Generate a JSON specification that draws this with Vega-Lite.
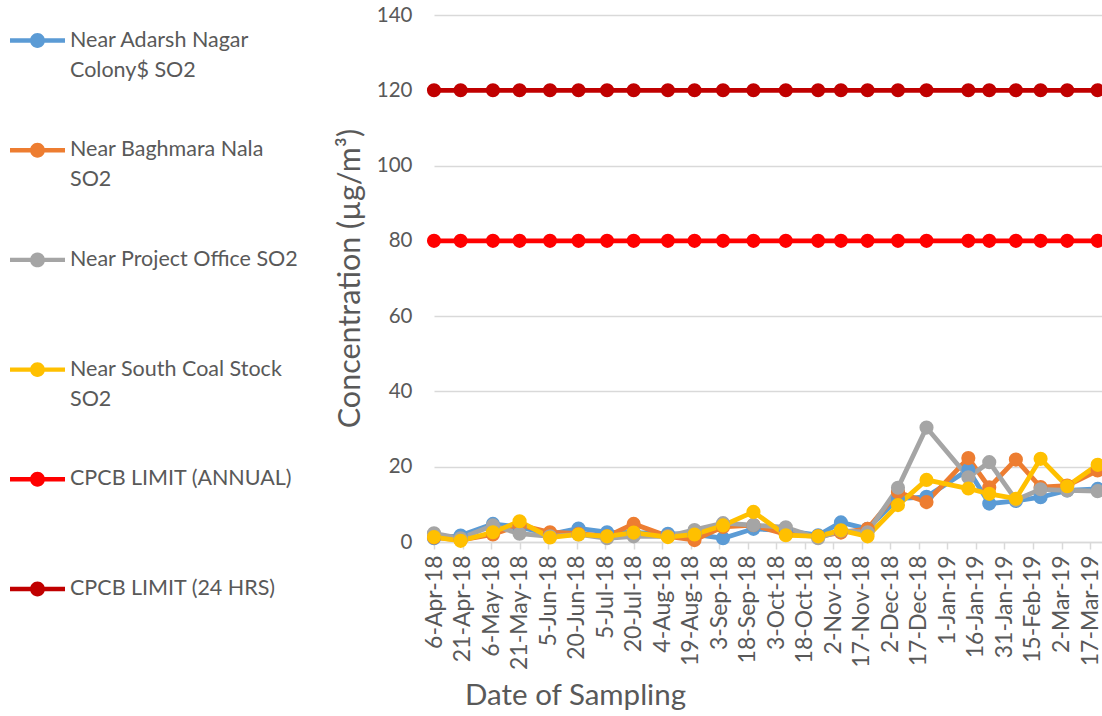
{
  "$schema": "https://vega.github.io/schema/vega-lite/v6.json",
  "width": 668,
  "height": 527,
  "autosize": {"type": "none"},
  "padding": {"left": 434, "top": 15, "right": 0, "bottom": 174},
  "background": "white",
  "config": {"view": {"stroke": null}, "font": "Lato"},
  "data": {
    "values": [
      {"date": "2018-04-06", "Near Adarsh Nagar Colony$ SO2": 1.0, "Near Baghmara Nala SO2": 1.2, "Near Project Office SO2": 2.3, "Near South Coal Stock SO2": 1.3, "CPCB LIMIT (ANNUAL)": 80, "CPCB LIMIT (24 HRS)": 120},
      {"date": "2018-04-20", "Near Adarsh Nagar Colony$ SO2": 1.7, "Near Baghmara Nala SO2": 0.5, "Near Project Office SO2": 1.0, "Near South Coal Stock SO2": 0.3, "CPCB LIMIT (ANNUAL)": 80, "CPCB LIMIT (24 HRS)": 120},
      {"date": "2018-05-07", "Near Adarsh Nagar Colony$ SO2": 4.8, "Near Baghmara Nala SO2": 2.0, "Near Project Office SO2": 4.4, "Near South Coal Stock SO2": 2.6, "CPCB LIMIT (ANNUAL)": 80, "CPCB LIMIT (24 HRS)": 120},
      {"date": "2018-05-21", "Near Adarsh Nagar Colony$ SO2": 4.0, "Near Baghmara Nala SO2": 4.5, "Near Project Office SO2": 2.2, "Near South Coal Stock SO2": 5.5, "CPCB LIMIT (ANNUAL)": 80, "CPCB LIMIT (24 HRS)": 120},
      {"date": "2018-06-06", "Near Adarsh Nagar Colony$ SO2": 2.0, "Near Baghmara Nala SO2": 2.6, "Near Project Office SO2": 1.5, "Near South Coal Stock SO2": 1.2, "CPCB LIMIT (ANNUAL)": 80, "CPCB LIMIT (24 HRS)": 120},
      {"date": "2018-06-21", "Near Adarsh Nagar Colony$ SO2": 3.6, "Near Baghmara Nala SO2": 2.2, "Near Project Office SO2": 2.0, "Near South Coal Stock SO2": 2.0, "CPCB LIMIT (ANNUAL)": 80, "CPCB LIMIT (24 HRS)": 120},
      {"date": "2018-07-06", "Near Adarsh Nagar Colony$ SO2": 2.6, "Near Baghmara Nala SO2": 1.5, "Near Project Office SO2": 1.0, "Near South Coal Stock SO2": 1.5, "CPCB LIMIT (ANNUAL)": 80, "CPCB LIMIT (24 HRS)": 120},
      {"date": "2018-07-20", "Near Adarsh Nagar Colony$ SO2": 2.5, "Near Baghmara Nala SO2": 4.8, "Near Project Office SO2": 1.5, "Near South Coal Stock SO2": 2.5, "CPCB LIMIT (ANNUAL)": 80, "CPCB LIMIT (24 HRS)": 120},
      {"date": "2018-08-07", "Near Adarsh Nagar Colony$ SO2": 2.2, "Near Baghmara Nala SO2": 1.5, "Near Project Office SO2": 1.5, "Near South Coal Stock SO2": 1.3, "CPCB LIMIT (ANNUAL)": 80, "CPCB LIMIT (24 HRS)": 120},
      {"date": "2018-08-21", "Near Adarsh Nagar Colony$ SO2": 2.0, "Near Baghmara Nala SO2": 0.5, "Near Project Office SO2": 3.2, "Near South Coal Stock SO2": 2.0, "CPCB LIMIT (ANNUAL)": 80, "CPCB LIMIT (24 HRS)": 120},
      {"date": "2018-09-05", "Near Adarsh Nagar Colony$ SO2": 1.0, "Near Baghmara Nala SO2": 4.0, "Near Project Office SO2": 5.0, "Near South Coal Stock SO2": 4.4, "CPCB LIMIT (ANNUAL)": 80, "CPCB LIMIT (24 HRS)": 120},
      {"date": "2018-09-21", "Near Adarsh Nagar Colony$ SO2": 3.5, "Near Baghmara Nala SO2": 4.5, "Near Project Office SO2": 4.5, "Near South Coal Stock SO2": 8.0, "CPCB LIMIT (ANNUAL)": 80, "CPCB LIMIT (24 HRS)": 120},
      {"date": "2018-10-08", "Near Adarsh Nagar Colony$ SO2": 3.0, "Near Baghmara Nala SO2": 2.0, "Near Project Office SO2": 3.9, "Near South Coal Stock SO2": 1.8, "CPCB LIMIT (ANNUAL)": 80, "CPCB LIMIT (24 HRS)": 120},
      {"date": "2018-10-25", "Near Adarsh Nagar Colony$ SO2": 1.8, "Near Baghmara Nala SO2": 1.5, "Near Project Office SO2": 1.0, "Near South Coal Stock SO2": 1.5, "CPCB LIMIT (ANNUAL)": 80, "CPCB LIMIT (24 HRS)": 120},
      {"date": "2018-11-06", "Near Adarsh Nagar Colony$ SO2": 5.2, "Near Baghmara Nala SO2": 2.5, "Near Project Office SO2": 3.0, "Near South Coal Stock SO2": 3.1, "CPCB LIMIT (ANNUAL)": 80, "CPCB LIMIT (24 HRS)": 120},
      {"date": "2018-11-20", "Near Adarsh Nagar Colony$ SO2": 3.5, "Near Baghmara Nala SO2": 3.5, "Near Project Office SO2": 2.6, "Near South Coal Stock SO2": 1.5, "CPCB LIMIT (ANNUAL)": 80, "CPCB LIMIT (24 HRS)": 120},
      {"date": "2018-12-06", "Near Adarsh Nagar Colony$ SO2": 11.5, "Near Baghmara Nala SO2": 13.2, "Near Project Office SO2": 14.4, "Near South Coal Stock SO2": 9.8, "CPCB LIMIT (ANNUAL)": 80, "CPCB LIMIT (24 HRS)": 120},
      {"date": "2018-12-21", "Near Adarsh Nagar Colony$ SO2": 12.0, "Near Baghmara Nala SO2": 10.6, "Near Project Office SO2": 30.4, "Near South Coal Stock SO2": 16.5, "CPCB LIMIT (ANNUAL)": 80, "CPCB LIMIT (24 HRS)": 120},
      {"date": "2019-01-12", "Near Adarsh Nagar Colony$ SO2": 19.2, "Near Baghmara Nala SO2": 22.3, "Near Project Office SO2": 17.2, "Near South Coal Stock SO2": 14.2, "CPCB LIMIT (ANNUAL)": 80, "CPCB LIMIT (24 HRS)": 120},
      {"date": "2019-01-23", "Near Adarsh Nagar Colony$ SO2": 10.2, "Near Baghmara Nala SO2": 14.5, "Near Project Office SO2": 21.2, "Near South Coal Stock SO2": 12.8, "CPCB LIMIT (ANNUAL)": 80, "CPCB LIMIT (24 HRS)": 120},
      {"date": "2019-02-06", "Near Adarsh Nagar Colony$ SO2": 10.9, "Near Baghmara Nala SO2": 21.9, "Near Project Office SO2": 11.2, "Near South Coal Stock SO2": 11.5, "CPCB LIMIT (ANNUAL)": 80, "CPCB LIMIT (24 HRS)": 120},
      {"date": "2019-02-19", "Near Adarsh Nagar Colony$ SO2": 11.9, "Near Baghmara Nala SO2": 14.6, "Near Project Office SO2": 14.0, "Near South Coal Stock SO2": 22.1, "CPCB LIMIT (ANNUAL)": 80, "CPCB LIMIT (24 HRS)": 120},
      {"date": "2019-03-05", "Near Adarsh Nagar Colony$ SO2": 13.7, "Near Baghmara Nala SO2": 15.0, "Near Project Office SO2": 13.7, "Near South Coal Stock SO2": 14.8, "CPCB LIMIT (ANNUAL)": 80, "CPCB LIMIT (24 HRS)": 120},
      {"date": "2019-03-21", "Near Adarsh Nagar Colony$ SO2": 14.1, "Near Baghmara Nala SO2": 19.0, "Near Project Office SO2": 13.5, "Near South Coal Stock SO2": 20.5, "CPCB LIMIT (ANNUAL)": 80, "CPCB LIMIT (24 HRS)": 120}
    ]
  },
  "transform": [
    {"fold": ["Near Adarsh Nagar Colony$ SO2", "Near Baghmara Nala SO2", "Near Project Office SO2", "Near South Coal Stock SO2", "CPCB LIMIT (ANNUAL)", "CPCB LIMIT (24 HRS)"], "as": ["series", "value"]}
  ],
  "mark": {"type": "line", "strokeWidth": 4.8, "point": {"filled": true, "size": 200}},
  "encoding": {
    "x": {
      "field": "date",
      "type": "temporal",
      "scale": {"type": "utc", "domain": [{"year": 2018, "month": 4, "date": 6, "utc": true}, {"year": 2019, "month": 3, "date": 23, "hours": 7, "utc": true}]},
      "axis": {
        "values": [
          {"year": 2018, "month": 4, "date": 6, "utc": true},
          {"year": 2018, "month": 4, "date": 21, "utc": true},
          {"year": 2018, "month": 5, "date": 6, "utc": true},
          {"year": 2018, "month": 5, "date": 21, "utc": true},
          {"year": 2018, "month": 6, "date": 5, "utc": true},
          {"year": 2018, "month": 6, "date": 20, "utc": true},
          {"year": 2018, "month": 7, "date": 5, "utc": true},
          {"year": 2018, "month": 7, "date": 20, "utc": true},
          {"year": 2018, "month": 8, "date": 4, "utc": true},
          {"year": 2018, "month": 8, "date": 19, "utc": true},
          {"year": 2018, "month": 9, "date": 3, "utc": true},
          {"year": 2018, "month": 9, "date": 18, "utc": true},
          {"year": 2018, "month": 10, "date": 3, "utc": true},
          {"year": 2018, "month": 10, "date": 18, "utc": true},
          {"year": 2018, "month": 11, "date": 2, "utc": true},
          {"year": 2018, "month": 11, "date": 17, "utc": true},
          {"year": 2018, "month": 12, "date": 2, "utc": true},
          {"year": 2018, "month": 12, "date": 17, "utc": true},
          {"year": 2019, "month": 1, "date": 1, "utc": true},
          {"year": 2019, "month": 1, "date": 16, "utc": true},
          {"year": 2019, "month": 1, "date": 31, "utc": true},
          {"year": 2019, "month": 2, "date": 15, "utc": true},
          {"year": 2019, "month": 3, "date": 2, "utc": true},
          {"year": 2019, "month": 3, "date": 17, "utc": true}
        ],
        "format": "%-d-%b-%y",
        "labelAngle": 270,
        "labelFontSize": 23,
        "labelColor": "#595959",
        "labelPadding": 6,
        "labelOverlap": false,
        "labelFlush": false,
        "tickSize": 7,
        "tickColor": "#D9D9D9",
        "tickWidth": 1.5,
        "domainColor": "#D9D9D9",
        "domainWidth": 1.5,
        "grid": false,
        "title": "Date of Sampling",
        "titleFontSize": 29.5,
        "titleFontWeight": "normal",
        "titleColor": "#595959",
        "titleX": 141,
        "titleY": 153,
        "titleBaseline": "middle",
        "titleAlign": "center"
      }
    },
    "y": {
      "field": "value",
      "type": "quantitative",
      "scale": {"domain": [0, 140], "nice": false},
      "axis": {
        "values": [0, 20, 40, 60, 80, 100, 120, 140],
        "domain": false,
        "ticks": false,
        "labelFontSize": 20.5,
        "labelColor": "#595959",
        "labelPadding": 22,
        "gridColor": "#D9D9D9",
        "gridWidth": 1.5,
        "title": "Concentration (µg/m³)",
        "titleFontSize": 30.5,
        "titleFontWeight": "normal",
        "titleColor": "#595959",
        "titleX": -84,
        "titleY": 263,
        "titleAngle": 270,
        "titleBaseline": "middle",
        "titleAlign": "center"
      }
    },
    "color": {
      "field": "series",
      "type": "nominal",
      "sort": ["Near Adarsh Nagar Colony$ SO2", "Near Baghmara Nala SO2", "Near Project Office SO2", "Near South Coal Stock SO2", "CPCB LIMIT (ANNUAL)", "CPCB LIMIT (24 HRS)"],
      "scale": {
        "domain": ["Near Adarsh Nagar Colony$ SO2", "Near Baghmara Nala SO2", "Near Project Office SO2", "Near South Coal Stock SO2", "CPCB LIMIT (ANNUAL)", "CPCB LIMIT (24 HRS)"],
        "range": ["#5B9BD5", "#ED7D31", "#A5A5A5", "#FFC000", "#FF0000", "#C00000"]
      },
      "legend": {
        "orient": "none",
        "legendX": -424,
        "legendY": -2,
        "title": null,
        "padding": 0,
        "symbolType": "M-1,-0.08L1,-0.08L1,0.08L-1,0.08Z M0.27,0A0.27,0.27,0,1,1,-0.27,0A0.27,0.27,0,1,1,0.27,0Z",
        "symbolSize": 3025,
        "symbolStrokeWidth": 0,
        "labelFontSize": 21.5,
        "labelColor": "#595959",
        "labelLimit": 400,
        "labelOffset": 5,
        "labelBaseline": "middle",
        "rowPadding": 41.7,
        "labelExpr": "datum.label == 'Near Adarsh Nagar Colony$ SO2' ? ['Near Adarsh Nagar', 'Colony$ SO2'] : datum.label == 'Near Baghmara Nala SO2' ? ['Near Baghmara Nala', 'SO2'] : datum.label == 'Near South Coal Stock SO2' ? ['Near South Coal Stock', 'SO2'] : [datum.label, ' ']",
        "encode": {
          "symbols": {"update": {"fill": {"scale": "color", "field": "value"}, "strokeWidth": {"value": 0}}},
          "labels": {"update": {"lineHeight": {"value": 30}}}
        }
      }
    }
  }
}
